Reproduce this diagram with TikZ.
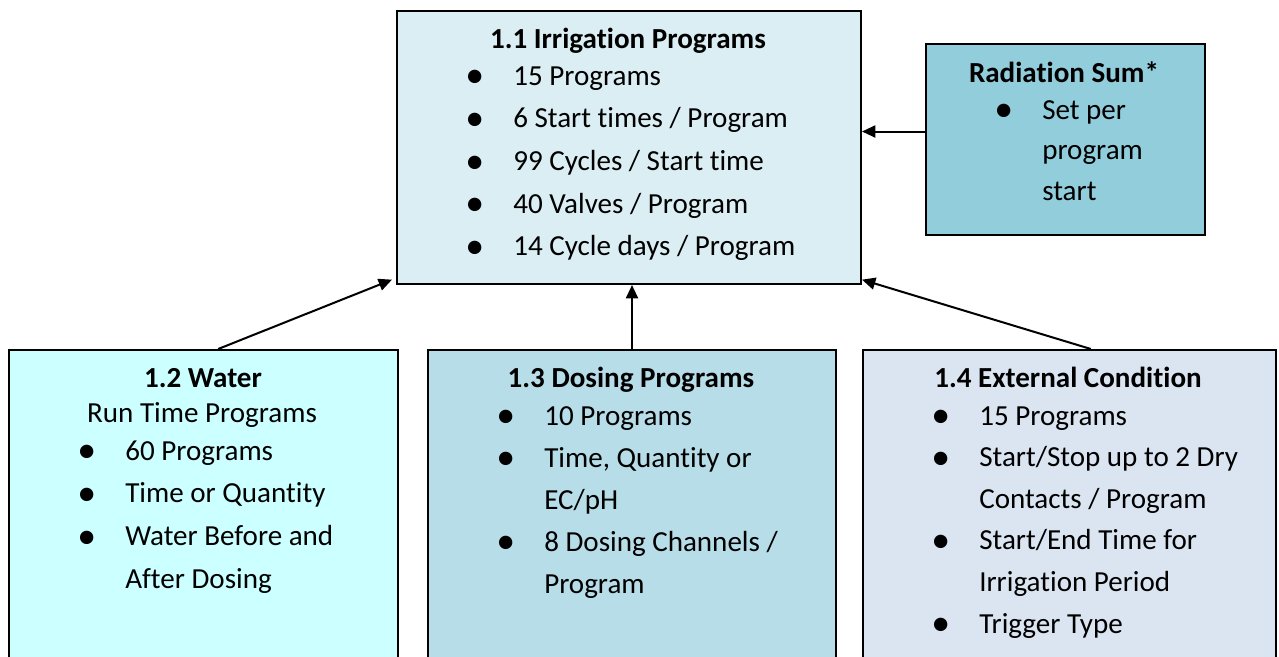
\documentclass[tikz,border=0pt]{standalone}
\usepackage{fontspec}
\setmainfont[Ligatures={NoCommon}]{Carlito}
\usetikzlibrary{arrows.meta,positioning}
\newlength\px
\setlength\px{0.75pt}
\definecolor{irrfill}{HTML}{DAEEF3}
\definecolor{radfill}{HTML}{92CDDC}
\definecolor{waterfill}{HTML}{CCFFFF}
\definecolor{dosefill}{HTML}{B7DDE8}
\definecolor{extfill}{HTML}{DBE5F1}
\newcommand{\bl}{\raisebox{-2.2pt}{\scalebox{1.3}{\textbullet}}}
\tikzset{
  box/.style={draw=black,line width=2\px,inner sep=0pt,anchor=north west},
  head/.style={anchor=base,inner sep=0pt,font=\fontsize{21.8}{32}\selectfont\bfseries},
  lst/.style={anchor=base west,inner sep=0pt,font=\fontsize{21.8}{32}\selectfont},
  conn/.style={-{Triangle[length=10pt,width=9pt]},line width=2\px}
}

\begin{document}
\begin{tikzpicture}[x=0.75pt,y=-0.75pt]
  \useasboundingbox (0,0) rectangle (1279,657);
  \clip (0,0) rectangle (1279,657);

  % boxes
  \node[box,fill=irrfill,minimum width=464\px,minimum height=273\px] (irr) at (396,10) {};
  \node[box,fill=radfill,minimum width=279\px,minimum height=191\px] (rad) at (925,43) {};
  \node[box,fill=waterfill,minimum width=389\px,minimum height=330\px] (water) at (8,349) {};
  \node[box,fill=dosefill,minimum width=408\px,minimum height=330\px] (dose) at (427,349) {};
  \node[box,fill=extfill,minimum width=413\px,minimum height=330\px] (ext) at (862,349) {};

  % titles
  \node[head] (irrHead) at (628,48) {1.1 Irrigation Programs};
  \node[head] (radHead) at (1064,82) {Radiation Sum*};
  \node[head] (waterHead) at (203,387) {1.2 Water};
  \node[head,font=\fontsize{21.8}{32}\selectfont] (waterSub) at (202,422) {Run Time Programs};
  \node[head] (doseHead) at (631,387) {1.3 Dosing Programs};
  \node[head] (extHead) at (1068,387) {1.4 External Condition};

  % lists
  \node[lst] (irrList) at (465,85) {\begin{tabular}[t]{@{}p{48\px}@{}l@{}}
    \bl & 15 Programs\\
    \bl & 6 Start times / Program\\
    \bl & 99 Cycles / Start time\\
    \bl & 40 Valves / Program\\
    \bl & 14 Cycle days / Program
  \end{tabular}};
  \node[lst,font=\fontsize{21.8}{30.4}\selectfont] (radList) at (994,119) {\begin{tabular}[t]{@{}p{48\px}@{}l@{}}
    \bl & Set per\\
        & program\\
        & start
  \end{tabular}};
  \node[lst] (waterList) at (77,460) {\begin{tabular}[t]{@{}p{48\px}@{}l@{}}
    \bl & 60 Programs\\
    \bl & Time or Quantity\\
    \bl & Water Before and\\
        & After Dosing
  \end{tabular}};
  \node[lst,font=\fontsize{21.8}{31.5}\selectfont] (doseList) at (496,425) {\begin{tabular}[t]{@{}p{48\px}@{}l@{}}
    \bl & 10 Programs\\
    \bl & Time, Quantity or\\
        & EC/pH\\
    \bl & 8 Dosing Channels /\\
        & Program
  \end{tabular}};
  \node[lst,font=\fontsize{21.8}{31.2}\selectfont] (extList) at (931,425) {\begin{tabular}[t]{@{}p{48\px}@{}l@{}}
    \bl & 15 Programs\\
    \bl & Start/Stop up to 2 Dry\\
        & Contacts / Program\\
    \bl & Start/End Time for\\
        & Irrigation Period\\
    \bl & Trigger Type
  \end{tabular}};

  % arrows
  \draw[conn] ([yshift=6pt]rad.west) -- ([yshift=6pt]rad.west -| irr.east);
  \draw[conn] ([xshift=11pt]water.north) -- ([xshift=-3pt,yshift=4pt]irr.south west);
  \draw[conn] (dose.north) -- (irr.south -| dose.north);
  \draw[conn] ([xshift=16pt]ext.north) -- ([yshift=4pt]irr.south east);
\end{tikzpicture}
\end{document}
